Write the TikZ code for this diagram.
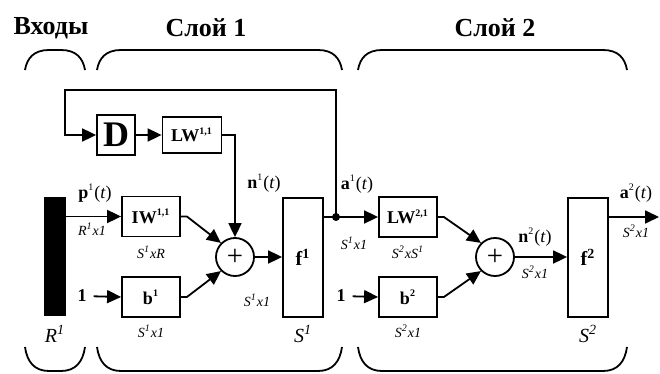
\documentclass[tikz,border=0pt]{standalone}
\usepackage{fontspec}
\setmainfont{Liberation Serif}
\usetikzlibrary{arrows.meta,positioning}
\newcommand{\sig}[2]{\textbf{#1}\textsuperscript{\tiny #2}(\textit{t})}
\newcommand{\grp}[4]{\draw[grp] (#1,#3) .. controls ({#1+2},{#3+0.6*(#4-#3)}) and ({#1+9},#4) .. ({#1+24},#4) -- ({#2-24},#4) .. controls ({#2-9},#4) and ({#2-2},{#3+0.6*(#4-#3)}) .. (#2,#3);}

\begin{document}
\begin{tikzpicture}[x=0.5pt,y=-0.5pt,every node/.style={font=\small},
  >={Triangle[length=7pt,width=6.5pt]},
  blk/.style={draw,line width=0.9pt,inner sep=0pt,font=\bfseries\small},
  wbox/.style={blk,minimum width=29pt,minimum height=20pt},
  fbox/.style={blk,minimum width=20pt,minimum height=59.5pt,font=\bfseries\normalsize},
  sumc/.style={draw,circle,line width=0.9pt,inner sep=0pt,minimum size=19pt,font=\Large},
  wire/.style={line width=0.9pt},
  lbl/.style={font=\small,inner sep=1pt},
  dim/.style={font=\itshape\scriptsize,inner sep=1pt},
  dimbig/.style={font=\itshape\normalsize,inner sep=1pt},
  ttl/.style={font=\bfseries\fontsize{13}{14}\selectfont},
  grp/.style={line width=0.9pt}]
\useasboundingbox (0,0) rectangle (660,374);
% titles
\node[ttl] (tin) at (51,28) {Входы};
\node[ttl] (tl1) at (206,28) {Слой 1};
\node[ttl] (tl2) at (495,28) {Слой 2};
% brackets
\grp{25}{85}{70}{50}
\grp{97}{342}{70}{50}
\grp{358}{627}{70}{50}
\grp{25}{85}{347}{371}
\grp{97}{342}{347}{371}
\grp{358}{627}{347}{371}
% layer 1
\node[blk,fill=black,minimum width=10pt,minimum height=58.5pt] (inp) at (55,256.5) {};
\node[blk,minimum width=19pt,minimum height=20pt,font=\bfseries\fontsize{18}{18}\selectfont] (dly) at (116,135) {D};
\node[blk,minimum width=29.5pt,minimum height=18pt] (lw11) at (192,135) {LW\textsuperscript{\tiny 1,1}};
\node[wbox] (iw11) at (151,216.5) {IW\textsuperscript{\tiny 1,1}};
\node[wbox] (b1) at (151,297) {b\textsuperscript{\tiny 1}};
\node[sumc] (sum1) at (235,257) {+};
\node[fbox] (f1) at (303,257.5) {f\textsuperscript{\scriptsize 1}};
\node (one1) at (82,296) {\textbf{1}};
\coordinate (jn) at (336,217);
\coordinate (fb) at (65,90);
% layer 2
\node[wbox] (lw21) at (408,217) {LW\textsuperscript{\tiny 2,1}};
\node[wbox] (b2) at (408,297) {b\textsuperscript{\tiny 2}};
\node[sumc] (sum2) at (495,257) {+};
\node[fbox] (f2) at (588,257.5) {f\textsuperscript{\scriptsize 2}};
\node (one2) at (341,296) {\textbf{1}};
\coordinate (out) at (659,217);
% wires
\draw[wire,->] (inp.east |- iw11) -- (iw11.west);
\draw[wire,->] (one1) -- (b1.west);
\draw[wire,->] (iw11.east) -- ++(6,0) -- (sum1.135);
\draw[wire,->] (b1.east) -- ++(6,0) -- (sum1.-135);
\draw[wire,->] (dly.east) -- (lw11.west);
\draw[wire,->] (lw11.east) -| (sum1.north);
\draw[wire,->] (sum1.east) -- (f1.west |- sum1);
\draw[wire] (f1.east |- jn) -- (jn);
\draw[wire,->] (jn) |- (fb) |- (dly.west);
\draw[wire,->] (jn) -- (lw21.west);
\fill (jn) circle (2pt);
\draw[wire,->] (one2) -- (b2.west);
\draw[wire,->] (lw21.east) -- ++(6,0) -- (sum2.135);
\draw[wire,->] (b2.east) -- ++(6,0) -- (sum2.-135);
\draw[wire,->] (sum2.east) -- (f2.west |- sum2);
\draw[wire,->] (f2.east |- jn) -- (out);
% labels
\node[lbl] (p1) at (95,193) {\sig{p}{1}};
\node[dim] (dp1) at (92,229) {R\textsuperscript{1}x1};
\node[dim] (diw) at (151,252) {S\textsuperscript{1}xR};
\node[dim] (db1) at (151,331) {S\textsuperscript{1}x1};
\node[dimbig] (r1) at (55,334) {R\textsuperscript{1}};
\node[lbl] (n1) at (264,183) {\sig{n}{1}};
\node[dim] (dn1) at (257,300) {S\textsuperscript{1}x1};
\node[dimbig] (s1) at (303,334) {S\textsuperscript{1}};
\node[lbl] (a1) at (357,184) {\sig{a}{1}};
\node[dim] (da1) at (354,243) {S\textsuperscript{1}x1};
\node[dim] (dlw) at (408,252) {S\textsuperscript{2}xS\textsuperscript{1}};
\node[dim] (db2) at (408,331) {S\textsuperscript{2}x1};
\node[lbl] (n2) at (535,237) {\sig{n}{2}};
\node[dim] (dn2) at (535,272) {S\textsuperscript{2}x1};
\node[dimbig] (s2) at (588,334) {S\textsuperscript{2}};
\node[lbl] (a2) at (636,193) {\sig{a}{2}};
\node[dim] (da2) at (636,231) {S\textsuperscript{2}x1};
\end{tikzpicture}
\end{document}
